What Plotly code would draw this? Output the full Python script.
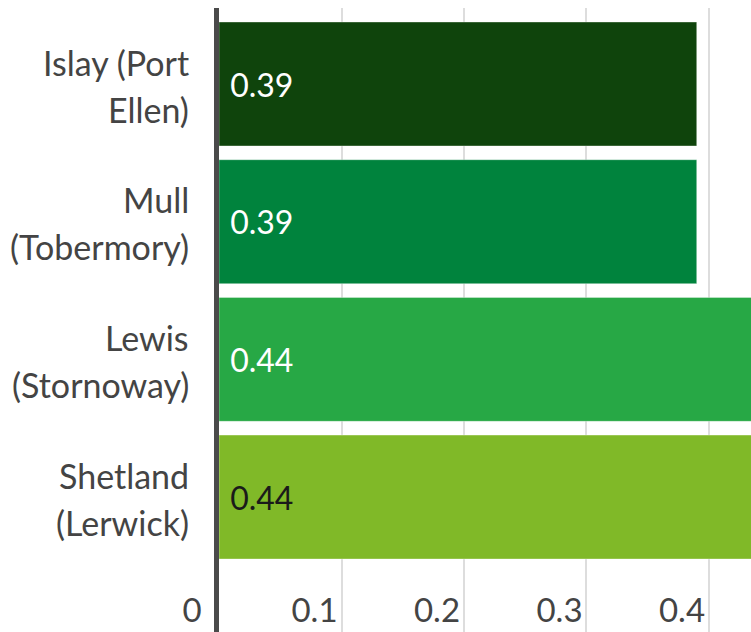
import plotly.graph_objects as go

# Ferry terminals and their values
places = ["Islay", "Mull", "Lewis", "Shetland"]
label_line1 = ["Islay (Port", "Mull", "Lewis", "Shetland"]
label_line2 = ["Ellen)", "(Tobermory)", "(Stornoway)", "(Lerwick)"]
values = [0.39, 0.39, 0.44, 0.44]
bar_colors = ["#0f440c", "#00833d", "#27a845", "#80b928"]
text_colors = ["#ffffff", "#ffffff", "#ffffff", "#1a1a1a"]
x_ticks = [0, 0.1, 0.2, 0.3, 0.4]
x_tick_text = ["0", "0.1", "0.2", "0.3", "0.4"]

FONT = "Lato"
TICK_GREY = "#444444"

fig = go.Figure(
    go.Bar(
        y=places,
        x=values,
        orientation="h",
        marker=dict(color=bar_colors, line=dict(color="rgba(255,255,255,0.35)", width=1)),
        text=["\u00a0" + f"{v:.2f}" for v in values],
        textposition="inside",
        insidetextanchor="start",
        textfont=dict(family=FONT, size=32, color=text_colors),
        cliponaxis=True,
        hoverinfo="skip",
    )
)

# two-line category labels, right-aligned against the axis line
annotations = []
for place, l1, l2 in zip(places, label_line1, label_line2):
    for txt, shift in ((l1, 22), (l2, -25)):
        annotations.append(
            dict(
                xref="paper", x=0, yref="y", y=place,
                text=txt, showarrow=False,
                xanchor="right", yanchor="middle",
                xshift=-28, yshift=shift,
                font=dict(family=FONT, size=34, color=TICK_GREY),
            )
        )

fig.update_layout(
    width=751,
    height=632,
    margin=dict(l=219, r=0, t=8, b=0),
    paper_bgcolor="white",
    plot_bgcolor="white",
    bargap=0.1,
    showlegend=False,
    annotations=annotations,
    xaxis=dict(
        range=[0, 0.4343],
        tickvals=x_ticks,
        ticktext=x_tick_text,
        showgrid=True,
        gridcolor="#dddddd",
        gridwidth=2,
        zeroline=False,
        showline=False,
        ticks="",
        ticklabelposition="inside",
        ticklabeloverflow="allow",
        ticklabelshift=-27,
        ticklabelstandoff=0,
        tickfont=dict(family=FONT, size=33, color=TICK_GREY),
        layer="below traces",
    ),
    yaxis=dict(
        categoryorder="array",
        categoryarray=places,
        range=[3.98, -0.552],
        showticklabels=False,
        showgrid=False,
        zeroline=False,
        showline=True,
        linecolor="#4a4a4a",
        linewidth=5,
        ticks="",
    ),
)

fig.write_html("out.html")
